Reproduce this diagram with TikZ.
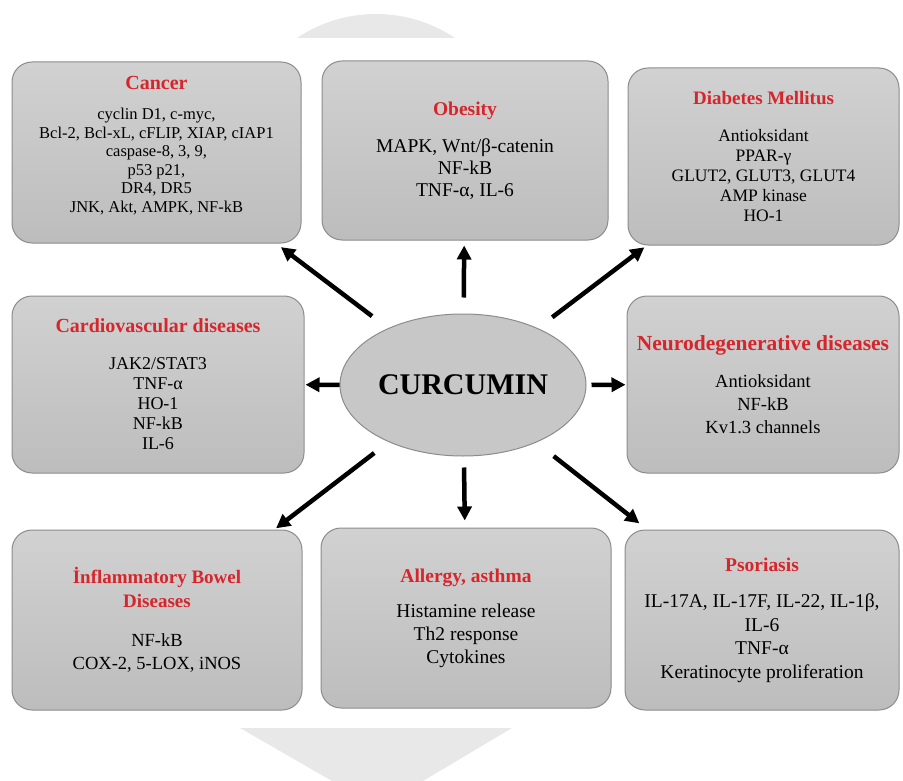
\documentclass[tikz,border=0pt]{standalone}
\usepackage{fontspec}
\setmainfont{Liberation Serif}
\usetikzlibrary{arrows.meta,shapes.geometric}

\definecolor{titlered}{RGB}{214,38,44}
\definecolor{wmgray}{RGB}{232,232,232}
\definecolor{edgegray}{RGB}{140,140,140}

% red bold heading inside a box
\newcommand{\dtitle}[2][19.5]{{\fontsize{#1}{#1}\selectfont\bfseries\color{titlered}#2}}

\tikzset{
  dbox/.style 2 args={draw=edgegray, line width=1pt, rounded corners=20pt,
    top color=black!18, bottom color=black!26, align=center, inner sep=0pt,
    minimum width=#1, minimum height=#2},
  hub/.style={ellipse, draw=edgegray, line width=1pt, fill=black!22, inner sep=0pt,
    minimum width=246pt, minimum height=142pt,
    font=\fontsize{30}{30}\selectfont\bfseries},
  arr/.style={-{Triangle[length=14pt,width=14pt]}, line width=4.5pt},
}

\begin{document}
\begin{tikzpicture}[x=1pt,y=-1pt]
  \useasboundingbox[fill=white] (0,0) rectangle (903,781);

  % faint watermark
  \begin{scope}
    \clip (0,0) rectangle (903,38);
    \fill[wmgray] (376,156) circle[radius=142pt];
  \end{scope}
  \fill[wmgray] (240,728) -- (512,728) -- (423,781) -- (332,781) -- cycle;

  \node[hub] (curc) at (463,385) {CURCUMIN};

  \node[dbox={289pt}{181pt}, font=\fontsize{16.5}{18.5}\selectfont] (cancer) at (156.5,152.5)
    {\dtitle[20]{Cancer}\\[11.5pt]
     cyclin D1, c-myc,\\ Bcl-2, Bcl-xL, cFLIP, XIAP, cIAP1\\ caspase-8, 3, 9,\\
     p53 p21,\\ DR4, DR5\\ JNK, Akt, AMPK, NF-kB\\[-2.5pt]};
  \node[dbox={286pt}{179pt}, font=\fontsize{19.5}{22}\selectfont] (obesity) at (465,150.5)
    {\dtitle{Obesity}\\[15pt]
     MAPK, Wnt/β-catenin\\ NF-kB\\ TNF-α, IL-6};
  \node[dbox={271pt}{177pt}, font=\fontsize{17.5}{20}\selectfont] (diabetes) at (763.5,156.5)
    {\dtitle[19]{Diabetes Mellitus}\\[17pt]
     Antioksidant\\ PPAR-γ\\ GLUT2, GLUT3, GLUT4\\ AMP kinase\\ HO-1};

  \node[dbox={292pt}{177pt}, font=\fontsize{18}{20}\selectfont] (cardio) at (158,384.5)
    {\dtitle[20]{Cardiovascular diseases}\\[17pt]
     JAK2/STAT3\\ TNF-α\\ HO-1\\ NF-kB\\ IL-6};
  \node[dbox={272pt}{177pt}, font=\fontsize{18.5}{23}\selectfont] (neuro) at (763,384.5)
    {\dtitle[21.5]{Neurodegenerative diseases}\\[14pt]
     Antioksidant\\ NF-kB\\ Kv1.3 channels};

  \node[dbox={290pt}{180pt}, font=\fontsize{18.5}{23.5}\selectfont] (ibd) at (157,620)
    {\dtitle[19]{İnflammatory Bowel}\\ \dtitle[19]{Diseases}\\[15.5pt]
     NF-kB\\ COX-2, 5-LOX, iNOS};
  \node[dbox={290pt}{180pt}, font=\fontsize{19.5}{23}\selectfont] (allergy) at (466,618)
    {\dtitle{Allergy, asthma}\\[12pt]
     Histamine release\\ Th2 response\\ Cytokines};
  \node[dbox={274pt}{180pt}, font=\fontsize{19.5}{23.5}\selectfont] (psoriasis) at (762,620)
    {\dtitle{Psoriasis}\\[13pt]
     IL-17A, IL-17F, IL-22, IL-1β,\\ IL-6\\ TNF-α\\ Keratinocyte proliferation};

  \path[arr] (curc) edge[shorten <=20pt, shorten >=6pt] (cancer)
                    edge[shorten <=16pt, shorten >=5pt] (obesity)
                    edge[shorten <=18pt, shorten >=3pt] (diabetes)
                    edge[shorten <=0pt,  shorten >=1pt] (cardio)
                    edge[shorten <=5pt,  shorten >=1pt] (neuro)
                    edge[shorten <=18pt, shorten >=2pt] (ibd)
                    edge[shorten <=11pt, shorten >=7pt] (allergy)
                    edge[shorten <=22pt, shorten >=10pt] (psoriasis);
\end{tikzpicture}
\end{document}
